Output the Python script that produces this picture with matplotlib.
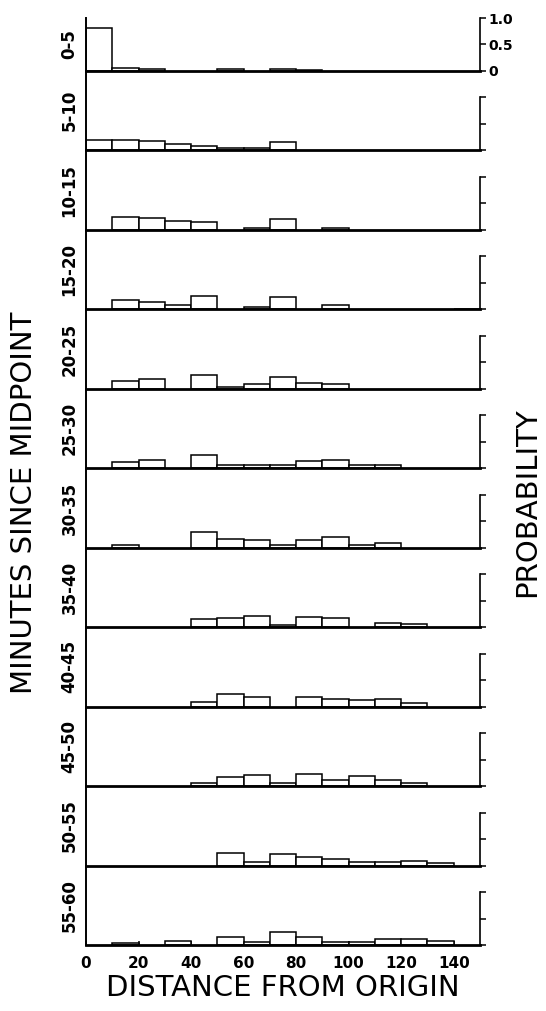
import numpy as np
import matplotlib
matplotlib.use("Agg")
import matplotlib.pyplot as plt
import matplotlib.gridspec as gridspec

# distance bins (left edges), width 10
bin_edges = np.arange(0, 150, 10)
bin_width = 10

period_labels = ["0-5", "5-10", "10-15", "15-20", "20-25", "25-30",
                 "30-35", "35-40", "40-45", "45-50", "50-55", "55-60"]

# probability per distance bin
p00_05 = [0.82, 0.06, 0.04, 0, 0, 0.04, 0, 0.04, 0.01, 0, 0, 0, 0, 0, 0]
p05_10 = [0.19, 0.19, 0.18, 0.13, 0.075, 0.05, 0.05, 0.16, 0, 0, 0, 0, 0, 0, 0]
p10_15 = [0, 0.25, 0.22, 0.16, 0.15, 0, 0.04, 0.21, 0, 0.04, 0, 0, 0, 0, 0]
p15_20 = [0, 0.18, 0.13, 0.08, 0.26, 0, 0.05, 0.23, 0, 0.075, 0, 0, 0, 0, 0.01]
p20_25 = [0, 0.15, 0.19, 0, 0.26, 0.03, 0.09, 0.23, 0.11, 0.09, 0, 0, 0, 0, 0]
p25_30 = [0, 0.12, 0.16, 0, 0.25, 0.07, 0.06, 0.07, 0.13, 0.16, 0.055, 0.055, 0, 0, 0]
p30_35 = [0, 0.05, 0, 0, 0.29, 0.16, 0.145, 0.055, 0.145, 0.195, 0.06, 0.09, 0, 0, 0]
p35_40 = [0, 0, 0, 0, 0.157, 0.176, 0.21, 0.044, 0.195, 0.17, 0, 0.08, 0.057, 0, 0]
p40_45 = [0, 0, 0, 0, 0.088, 0.245, 0.19, 0, 0.19, 0.145, 0.13, 0.15, 0.07, 0, 0]
p45_50 = [0, 0, 0, 0, 0.063, 0.176, 0.21, 0.063, 0.226, 0.113, 0.195, 0.113, 0.063, 0, 0]
p50_55 = [0, 0, 0, 0, 0, 0.24, 0.075, 0.21, 0.165, 0.12, 0.075, 0.07, 0.08, 0.04, 0]
p55_60 = [0, 0.04, 0, 0.07, 0, 0.145, 0.057, 0.25, 0.145, 0.063, 0.063, 0.107, 0.107, 0.07, 0]

panels = [p00_05, p05_10, p10_15, p15_20, p20_25, p25_30,
          p30_35, p35_40, p40_45, p45_50, p50_55, p55_60]

x_ticks = [0, 20, 40, 60, 80, 100, 120, 140]
y_ticks = [0, 0.5, 1.0]
y_ticklabels = ["0", "0.5", "1.0"]

plt.rcParams['font.family'] = ['DejaVu Sans']

fig = plt.figure(figsize=(5.46, 10.11), dpi=100)
gs = gridspec.GridSpec(12, 1, height_ratios=[1.0] + [1.5] * 11, figure=fig,
                       left=86 / 546, right=480 / 546,
                       top=1 - 18 / 1011, bottom=1 - 945 / 1011, hspace=0)

for i, vals in enumerate(panels):
    ax = fig.add_subplot(gs[i, 0])
    ax.patch.set_visible(False)  # so the panel below doesn't hide this baseline
    vals = np.array(vals)
    keep = vals > 0
    ax.bar(bin_edges[keep], vals[keep], width=bin_width, align='edge',
           facecolor='white', edgecolor='black', linewidth=1.1, zorder=2)

    ax.set_xlim(0, 150)
    ax.set_ylim(0, 1.0 if i == 0 else 1.5)

    ax.spines['top'].set_visible(False)
    ax.spines['left'].set_linewidth(1.4)
    ax.spines['bottom'].set_linewidth(2.0)
    ax.spines['bottom'].set_zorder(3)
    ax.spines['right'].set_linewidth(1.2)
    ax.spines['right'].set_bounds(0, 1.0)

    ax.yaxis.tick_right()
    ax.set_yticks(y_ticks)
    ax.tick_params(axis='y', direction='out', length=4, width=1.1, pad=2,
                   labelsize=10)
    if i == 0:
        ax.set_yticklabels(y_ticklabels, fontweight='bold')
    else:
        ax.set_yticklabels([])

    if i == len(panels) - 1:
        ax.set_xticks(x_ticks)
        ax.set_xticklabels([str(t) for t in x_ticks], fontweight='bold')
        ax.tick_params(axis='x', direction='in', length=3, width=1.1, pad=8,
                       labelsize=11)
    else:
        ax.set_xticks([])

    ax.text(-0.042, 0.5, period_labels[i], transform=ax.transAxes,
            rotation=90, ha='center', va='center', fontsize=12,
            fontweight='bold')

fig.text(283 / 546, 1 - 988 / 1011, "DISTANCE FROM ORIGIN", ha='center',
         va='center', fontsize=21)
fig.text(24 / 546, 1 - 503 / 1011, "MINUTES SINCE MIDPOINT", ha='center',
         va='center', rotation=90, fontsize=21)
fig.text(527 / 546, 1 - 502 / 1011, "PROBABILITY", ha='center',
         va='center', rotation=90, fontsize=21)

fig.savefig("out.png", dpi=100, facecolor='white')
